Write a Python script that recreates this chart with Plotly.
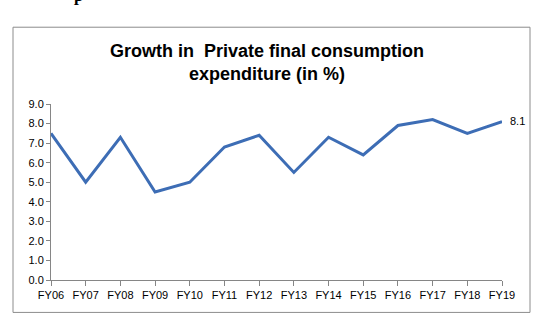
import plotly.graph_objects as go

categories = ["FY06", "FY07", "FY08", "FY09", "FY10", "FY11", "FY12",
              "FY13", "FY14", "FY15", "FY16", "FY17", "FY18", "FY19"]
growth = [7.5, 5.0, 7.3, 4.5, 5.0, 6.8, 7.4, 5.5, 7.3, 6.4, 7.9, 8.2, 7.5, 8.1]
y_ticks = [0, 1, 2, 3, 4, 5, 6, 7, 8, 9]
y_tick_labels = ["%.1f" % v for v in y_ticks]

W, H = 547, 322
L, R, T, B = 51, 502, 103.5, 280
ml, mr, mt, mb = L, W - R, T, H - B
pw, ph = R - L, B - T

def px(x):
    return (x - L) / pw

def py(y):
    return (B - y) / ph

idx = list(range(len(categories)))

fig = go.Figure()
fig.add_trace(go.Scatter(
    x=idx, y=growth, mode="lines",
    line=dict(color="#3D6DB5", width=3),
    cliponaxis=False, hoverinfo="skip", showlegend=False,
))

fig.update_layout(
    width=W, height=H,
    margin=dict(l=ml, r=mr, t=mt, b=mb, pad=0),
    paper_bgcolor="white", plot_bgcolor="white",
    font=dict(family="Liberation Sans, Arial", color="#000000"),
    showlegend=False,
    xaxis=dict(
        range=[0, len(categories) - 1], tickmode="array",
        tickvals=idx, ticktext=categories,
        showgrid=False, zeroline=False,
        showline=True, linecolor="#868686", linewidth=1,
        ticks="outside", ticklen=5, tickcolor="#868686",
        tickfont=dict(size=11, color="#000000"),
    ),
    yaxis=dict(
        range=[0, 9], tickmode="array", tickvals=y_ticks, ticktext=y_tick_labels,
        showgrid=False, zeroline=False,
        showline=True, linecolor="#868686", linewidth=1,
        ticks="outside", ticklen=4, tickcolor="#868686",
        tickfont=dict(size=11, color="#000000"),
    ),
    shapes=[dict(
        type="rect", xref="paper", yref="paper",
        x0=px(13), x1=px(530), y0=py(312.5), y1=py(26.5),
        line=dict(color="#8C8C8C", width=1), fillcolor="rgba(0,0,0,0)",
        layer="below",
    )],
    annotations=[
        dict(
            text="<b>Growth in  Private final consumption<br>expenditure (in %)</b>",
            xref="paper", yref="paper", x=px(267), y=py(62),
            xanchor="center", yanchor="middle", showarrow=False,
            font=dict(family="Liberation Sans, Arial", size=18, color="#000000"),
            align="center",
        ),
        dict(
            text="%.1f" % growth[-1],
            xref="x", yref="y", x=idx[-1], y=growth[-1],
            xanchor="left", yanchor="middle", xshift=6, yshift=1, showarrow=False,
            font=dict(family="Liberation Sans, Arial", size=11, color="#000000"),
        ),
        dict(
            text="<b>p</b>",
            xref="paper", yref="paper", x=px(78), y=py(-5),
            xanchor="center", yanchor="middle", showarrow=False,
            font=dict(family="Liberation Serif, serif", size=17, color="#000000"),
        ),
    ],
)

fig.write_html("out.html")
